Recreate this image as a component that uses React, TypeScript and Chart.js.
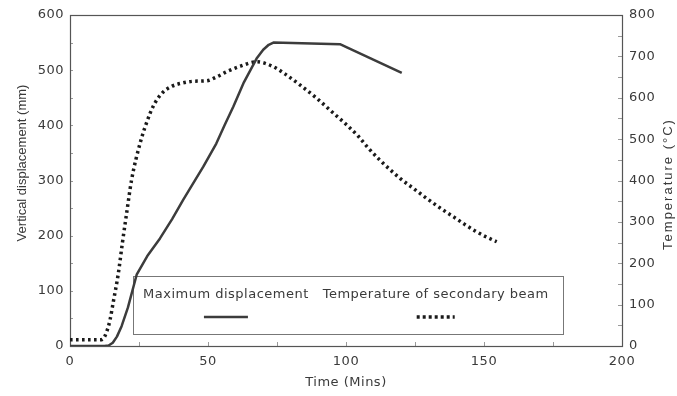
import React, { useEffect, useRef } from 'react';
import { Chart, registerables } from 'chart.js';

Chart.register(...registerables);

// ---- data ----
const dispTime = [0, 12.5, 14, 15.5, 17, 18.7, 21, 24.2, 28, 32.6, 37, 41, 45, 48.3, 53, 56, 59.2, 63, 67.6, 70, 72, 73.7, 97.8, 120.2];
const dispValues = [0, 0, 1, 6, 17, 36, 70, 130, 163, 195, 230, 265, 298, 325, 367, 400, 434, 478, 521, 537, 546, 550, 547, 495];

const tempTime = [0, 11, 12.5, 13.9, 14.5, 15.7, 17.5, 19, 20.5, 22.3, 25.4, 29, 31, 33.8, 37, 41, 45, 49.5, 53, 56.8, 62, 67.6, 73.7, 78, 83.3, 89, 95.4, 100, 104.3, 108, 112.3, 116, 119.6, 124, 129.2, 134, 139, 143, 147.3, 151, 154.6];
const tempValues = [15, 15, 22, 47, 63, 107, 175, 250, 320, 401, 490, 562, 590, 614, 628, 636, 640, 641, 650, 663, 677, 687, 675, 657, 631, 601, 563, 536, 508, 479, 449, 426, 405, 383, 357, 334, 312, 294, 276, 263, 252];

const xTickValues = [0, 50, 100, 150, 200];
const leftTickValues = [0, 100, 200, 300, 400, 500, 600];
const rightTickValues = [0, 100, 200, 300, 400, 500, 600, 700, 800];
const seriesNames = ['Maximum displacement', 'Temperature of secondary beam'];
const xTitle = 'Time (Mins)';
const yTitle = 'Vertical displacement (mm)';
const y1Title = 'Temperature (°C)';

const TEXT = '#3a3a3a';
const FONT_FAMILY = '"DejaVu Sans", sans-serif';
const SOLID_COLOR = '#3c3c3c';
const DOT_COLOR = '#1a1a1a';

const framePlugin = {
  id: 'framePlugin',
  beforeDraw(chart: any) {
    chart.ctx.letterSpacing = '0.5px';
  },
  beforeDatasetsDraw(chart: any) {
    const { ctx, chartArea, scales } = chart;
    const { left, right, top, bottom } = chartArea;
    ctx.save();
    ctx.letterSpacing = '0px';
    // minor inward ticks
    ctx.strokeStyle = '#9a9a9a';
    ctx.lineWidth = 1;
    ctx.beginPath();
    for (let v = 25; v < 200; v += 25) {
      const x = Math.round(scales.x.getPixelForValue(v)) + 0.5;
      ctx.moveTo(x, bottom);
      ctx.lineTo(x, bottom - 4);
    }
    for (let v = 50; v < 600; v += 50) {
      const y = Math.round(scales.y.getPixelForValue(v)) + 0.5;
      ctx.moveTo(left, y);
      ctx.lineTo(left + 3, y);
    }
    for (let v = 50; v < 800; v += 50) {
      const y = Math.round(scales.y1.getPixelForValue(v)) + 0.5;
      ctx.moveTo(right, y);
      ctx.lineTo(right - 4, y);
    }
    ctx.stroke();
    // frame
    ctx.strokeStyle = '#555555';
    ctx.lineWidth = 1.2;
    ctx.strokeRect(left + 0.5, top + 0.5, right - left, bottom - top);

    // legend box (positioned in data space of the x / y axes)
    const bx0 = scales.x.getPixelForValue(22.8);
    const bx1 = scales.x.getPixelForValue(178.6);
    const by0 = scales.y.getPixelForValue(126);
    const by1 = scales.y.getPixelForValue(20);
    ctx.strokeStyle = '#777777';
    ctx.lineWidth = 1;
    ctx.strokeRect(Math.round(bx0) + 0.5, Math.round(by0) + 0.5, Math.round(bx1 - bx0), Math.round(by1 - by0));

    ctx.letterSpacing = '0.5px';
    ctx.fillStyle = TEXT;
    ctx.font = `13px ${FONT_FAMILY}`;
    ctx.textBaseline = 'middle';
    ctx.textAlign = 'center';
    const ty = by0 + 18;
    const c1 = scales.x.getPixelForValue(56.5);
    const c2 = scales.x.getPixelForValue(132.5);
    ctx.fillText(seriesNames[0], c1, ty);
    ctx.fillText(seriesNames[1], c2, ty);

    const sy = by0 + 40.5;
    ctx.beginPath();
    ctx.strokeStyle = SOLID_COLOR;
    ctx.lineWidth = 2.5;
    ctx.moveTo(c1 - 22, sy);
    ctx.lineTo(c1 + 22, sy);
    ctx.stroke();
    ctx.beginPath();
    ctx.strokeStyle = DOT_COLOR;
    ctx.lineWidth = 3.5;
    ctx.setLineDash([3, 3]);
    ctx.moveTo(c2 - 19, sy);
    ctx.lineTo(c2 + 19, sy);
    ctx.stroke();
    ctx.restore();
  },
  afterDraw(chart: any) {
    const { ctx, chartArea } = chart;
    ctx.save();
    ctx.letterSpacing = '0px';
    ctx.fillStyle = TEXT;
    ctx.font = '13px "Liberation Sans", Arial, sans-serif';
    ctx.textAlign = 'center';
    ctx.textBaseline = 'middle';
    ctx.translate(22, 163);
    ctx.rotate(-Math.PI / 2);
    ctx.fillText(yTitle, 0, 0);
    ctx.restore();

    ctx.save();
    ctx.letterSpacing = '2px';
    ctx.fillStyle = TEXT;
    ctx.font = '13px "Liberation Sans", Arial, sans-serif';
    ctx.textAlign = 'center';
    ctx.textBaseline = 'middle';
    ctx.translate(chartArea.right + 46, 184);
    ctx.rotate(-Math.PI / 2);
    ctx.fillText(y1Title, 0, 0);
    ctx.restore();
  },
};

export default function App() {
  const ref = useRef<HTMLCanvasElement | null>(null);

  useEffect(() => {
    if (!ref.current) return;
    const tickFont = { family: FONT_FAMILY, size: 13 };
    const chart = new Chart(ref.current, {
      type: 'line',
      data: {
        datasets: [
          {
            label: seriesNames[0],
            data: dispTime.map((t, i) => ({ x: t, y: dispValues[i] })),
            yAxisID: 'y',
            borderColor: SOLID_COLOR,
            borderWidth: 2.5,
            pointRadius: 0,
            tension: 0,
            borderJoinStyle: 'round',
            fill: false,
          },
          {
            label: seriesNames[1],
            data: tempTime.map((t, i) => ({ x: t, y: tempValues[i] })),
            yAxisID: 'y1',
            borderColor: DOT_COLOR,
            borderWidth: 3.5,
            borderDash: [2.6, 3.4],
            borderCapStyle: 'butt',
            pointRadius: 0,
            cubicInterpolationMode: 'monotone',
            fill: false,
          },
        ],
      },
      options: {
        responsive: false,
        animation: false,
        events: [],
        layout: { padding: { top: 15, left: 0, right: 0, bottom: 0 } },
        plugins: { legend: { display: false }, tooltip: { enabled: false }, title: { display: false } },
        scales: {
          x: {
            type: 'linear',
            min: 0,
            max: 200,
            afterBuildTicks: (s: any) => { s.ticks = xTickValues.map((v) => ({ value: v })); },
            afterFit: (s: any) => { s.height = 50; },
            grid: { display: false, drawTicks: false },
            border: { display: false },
            ticks: { font: tickFont, color: TEXT, padding: 8, maxRotation: 0, autoSkip: false },
            title: { display: true, text: xTitle, color: TEXT, font: tickFont, padding: { top: 0, bottom: 6 } },
          },
          y: {
            type: 'linear',
            position: 'left',
            min: 0,
            max: 600,
            afterBuildTicks: (s: any) => { s.ticks = leftTickValues.map((v) => ({ value: v })); },
            afterFit: (s: any) => { s.width = 70; },
            grid: { display: false, drawTicks: false },
            border: { display: false },
            ticks: { font: tickFont, color: TEXT, padding: 6 },
          },
          y1: {
            type: 'linear',
            position: 'right',
            min: 0,
            max: 800,
            afterBuildTicks: (s: any) => { s.ticks = rightTickValues.map((v) => ({ value: v })); },
            afterFit: (s: any) => { s.width = 55; },
            grid: { display: false, drawTicks: false },
            border: { display: false },
            ticks: { font: tickFont, color: TEXT, padding: 7 },
          },
        },
      },
      plugins: [framePlugin],
    } as any);
    return () => chart.destroy();
  }, []);

  return (
    <div style={{ position: 'fixed', left: 0, top: 0, width: 677, height: 396, background: '#fff' }}>
      <canvas ref={ref} width={677} height={396} style={{ display: 'block' }} />
    </div>
  );
}
